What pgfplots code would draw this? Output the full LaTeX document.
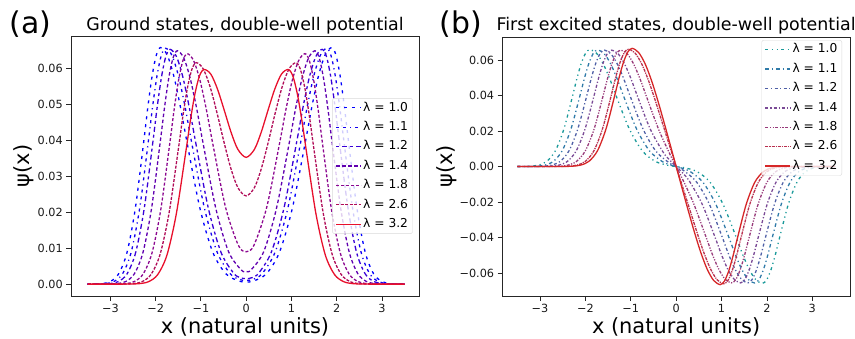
\documentclass[border=0pt]{standalone}
\usepackage{fontspec}
\setmainfont{DejaVu Sans}
\usepackage{pgfplots}
\pgfplotsset{compat=1.18}
\definecolor{gA}{HTML}{0000FF}
\definecolor{gB}{HTML}{1400F0}
\definecolor{gC}{HTML}{3800D8}
\definecolor{gD}{HTML}{6000B0}
\definecolor{gE}{HTML}{8C0890}
\definecolor{gF}{HTML}{B00C58}
\definecolor{gG}{HTML}{E8102C}
\definecolor{eA}{HTML}{1A9A9A}
\definecolor{eB}{HTML}{2F7AA8}
\definecolor{eC}{HTML}{4E5FA6}
\definecolor{eD}{HTML}{7A4A96}
\definecolor{eE}{HTML}{983A7A}
\definecolor{eF}{HTML}{B8304F}
\definecolor{eG}{HTML}{D62728}
\pgfplotsset{
  panel/.style={
    scale only axis,
    scaled ticks=false,
    axis line style={black!85, line width=0.9bp},
    tick pos=left, tick align=outside,
    major tick length=4.7bp,
    every tick/.style={black!85, line width=0.8bp},
    xtick={-3,-2,-1,0,1,2,3},
    xticklabels={−3,−2,−1,0,1,2,3},
    tick label style={font=\fontsize{11.3}{13}\selectfont, text=black!90},
    xlabel={x (natural units)},
    ylabel={ψ(x)},
    every axis x label/.style={at={(axis description cs:0.5,-0.146)}, anchor=base, font=\fontsize{21}{24}\selectfont},
    legend cell align=left,
    legend image code/.code={\draw[#1, line width=1.3bp] (0bp,0bp) -- (25bp,0bp);},
    every axis plot/.append style={line width=1.3bp, smooth},
    legend style={font=\fontsize{12.3}{14}\selectfont, draw=black!15, fill=white, fill opacity=0.8, text opacity=1, draw opacity=1, rounded corners=2bp, inner xsep=3bp, inner ysep=2bp, nodes={inner sep=1.5bp, text height=9.2bp, text depth=2.6bp}, row sep=4.6bp},
  }
}
\begin{document}
\begin{tikzpicture}
\useasboundingbox (0,0) rectangle (855bp,339bp);
\node[anchor=base west, font=\fontsize{30}{34}\selectfont] at (6bp,305bp) {(a)};
\node[anchor=base west, font=\fontsize{30}{34}\selectfont] at (436bp,305bp) {(b)};
\begin{axis}[panel,
  at={(71bp,43bp)}, anchor=south west,
  width=348bp, height=260bp,
  xmin=-3.87, xmax=3.82, ymin=-0.0033, ymax=0.0689,
  ytick={0,0.01,0.02,0.03,0.04,0.05,0.06},
  yticklabels={0.00,0.01,0.02,0.03,0.04,0.05,0.06},
  every axis y label/.style={at={(axis description cs:-0.135,0.5)}, rotate=90, anchor=center, font=\fontsize{21}{24}\selectfont},
  title={Ground states, double-well potential},
  every axis title/.style={at={(axis description cs:0.5,1.0204)}, anchor=base, font=\fontsize{17.5}{20}\selectfont},
  legend style={at={(0.982,0.5)}, anchor=east},
]
\addplot[gA, dash pattern=on 3bp off 5bp] coordinates {(-3.5,0) (-3.37,0.00002) (-3.185,0.00014) (-3.0,0.00073) (-2.815,0.00289) (-2.63,0.00889) (-2.445,0.02133) (-2.26,0.03985) (-2.1675,0.04959) (-2.075,0.05798) (-1.9825,0.06368) (-1.89,0.0657) (-1.746,0.06368) (-1.602,0.05798) (-1.458,0.04959) (-1.314,0.03985) (-1.026,0.02133) (-0.738,0.00889) (-0.45,0.0029) (-0.162,0.00085) (0,0.0006) (0.162,0.00085) (0.45,0.0029) (0.738,0.00889) (1.026,0.02133) (1.314,0.03985) (1.458,0.04959) (1.602,0.05798) (1.746,0.06368) (1.89,0.0657) (1.9825,0.06368) (2.075,0.05798) (2.1675,0.04959) (2.26,0.03985) (2.445,0.02133) (2.63,0.00889) (2.815,0.00289) (3.0,0.00073) (3.185,0.00014) (3.37,0.00002) (3.5,0)};
\addlegendentry{λ = 1.0}
\addplot[gB, dash pattern=on 3bp off 4bp on 3bp off 4bp on 1.2bp off 4bp] coordinates {(-3.5,0) (-3.3,0.00002) (-3.11,0.00014) (-2.92,0.00073) (-2.73,0.00288) (-2.54,0.00886) (-2.35,0.02127) (-2.16,0.03973) (-2.065,0.04944) (-1.97,0.0578) (-1.875,0.06348) (-1.78,0.0655) (-1.6375,0.06348) (-1.495,0.0578) (-1.3525,0.04944) (-1.21,0.03973) (-0.925,0.02127) (-0.64,0.00887) (-0.355,0.00294) (-0.17,0.0014) (0,0.001) (0.17,0.0014) (0.355,0.00294) (0.64,0.00887) (0.925,0.02127) (1.21,0.03973) (1.3525,0.04944) (1.495,0.0578) (1.6375,0.06348) (1.78,0.0655) (1.875,0.06348) (1.97,0.0578) (2.065,0.04944) (2.16,0.03973) (2.35,0.02127) (2.54,0.00886) (2.73,0.00288) (2.92,0.00073) (3.11,0.00014) (3.3,0.00002) (3.5,0)};
\addlegendentry{λ = 1.1}
\addplot[gC, dash pattern=on 3bp off 3bp on 5bp off 3bp] coordinates {(-3.5,0) (-3.2,0.00002) (-3.01,0.00014) (-2.82,0.00072) (-2.63,0.00286) (-2.44,0.00882) (-2.25,0.02117) (-2.06,0.03954) (-1.965,0.04921) (-1.87,0.05754) (-1.775,0.06319) (-1.68,0.0652) (-1.5395,0.06319) (-1.399,0.05754) (-1.2585,0.04921) (-1.118,0.03954) (-0.837,0.02117) (-0.556,0.00885) (-0.275,0.00302) (-0.13,0.0018) (0,0.0015) (0.13,0.0018) (0.275,0.00302) (0.556,0.00885) (0.837,0.02117) (1.118,0.03954) (1.2585,0.04921) (1.399,0.05754) (1.5395,0.06319) (1.68,0.0652) (1.775,0.06319) (1.87,0.05754) (1.965,0.04921) (2.06,0.03954) (2.25,0.02117) (2.44,0.00882) (2.63,0.00286) (2.82,0.00072) (3.01,0.00014) (3.2,0.00002) (3.5,0)};
\addlegendentry{λ = 1.2}
\addplot[gD, dash pattern=on 3.5bp off 2.5bp] coordinates {(-3.5,0) (-3.25,0) (-3.04,0.00002) (-2.85,0.00014) (-2.66,0.00072) (-2.47,0.00285) (-2.28,0.00877) (-2.09,0.02104) (-1.9,0.0393) (-1.805,0.04891) (-1.71,0.05719) (-1.615,0.0628) (-1.52,0.0648) (-1.3785,0.0628) (-1.237,0.05719) (-1.0955,0.04891) (-0.954,0.0393) (-0.671,0.02108) (-0.388,0.00899) (-0.105,0.0039) (0,0.00352) (0.105,0.0039) (0.388,0.00899) (0.671,0.02108) (0.954,0.0393) (1.0955,0.04891) (1.237,0.05719) (1.3785,0.0628) (1.52,0.0648) (1.615,0.0628) (1.71,0.05719) (1.805,0.04891) (1.9,0.0393) (2.09,0.02104) (2.28,0.00877) (2.47,0.00285) (2.66,0.00072) (2.85,0.00014) (3.04,0.00002) (3.25,0) (3.5,0)};
\addlegendentry{λ = 1.4}
\addplot[gE, dash pattern=on 3bp off 2bp] coordinates {(-3.5,0) (-3.1,0) (-2.86,0.00002) (-2.665,0.00014) (-2.47,0.00071) (-2.275,0.00281) (-2.08,0.00866) (-1.885,0.02078) (-1.69,0.03882) (-1.5925,0.04831) (-1.495,0.05648) (-1.3975,0.06203) (-1.3,0.064) (-1.159,0.06203) (-1.018,0.05649) (-0.877,0.04835) (-0.736,0.03891) (-0.454,0.02129) (-0.172,0.01078) (0,0.00899) (0.172,0.01078) (0.454,0.02129) (0.736,0.03891) (0.877,0.04835) (1.018,0.05649) (1.159,0.06203) (1.3,0.064) (1.3975,0.06203) (1.495,0.05648) (1.5925,0.04831) (1.69,0.03882) (1.885,0.02078) (2.08,0.00866) (2.275,0.00281) (2.47,0.00071) (2.665,0.00014) (2.86,0.00002) (3.1,0) (3.5,0)};
\addlegendentry{λ = 1.8}
\addplot[gF, dash pattern=on 3bp off 1.5bp] coordinates {(-3.5,0) (-3.0,0) (-2.7,0.00002) (-2.5,0.000135) (-2.3,0.00068) (-2.1,0.0027) (-1.9,0.00832) (-1.7,0.01997) (-1.5,0.0373) (-1.4,0.04642) (-1.3,0.05427) (-1.2,0.0596) (-1.1,0.0615) (-0.947,0.05974) (-0.794,0.0547) (-0.641,0.04742) (-0.488,0.03936) (-0.335,0.03204) (-0.182,0.02678) (0,0.0245) (0.182,0.02678) (0.335,0.03204) (0.488,0.03936) (0.641,0.04742) (0.794,0.0547) (0.947,0.05974) (1.1,0.0615) (1.2,0.0596) (1.3,0.05427) (1.4,0.04642) (1.5,0.0373) (1.7,0.01997) (1.9,0.00832) (2.1,0.0027) (2.3,0.00068) (2.5,0.000135) (2.7,0.00002) (3.0,0) (3.5,0)};
\addlegendentry{λ = 2.6}
\addplot[gG, solid] coordinates {(-3.5,0) (-2.9,0) (-2.57,0.00002) (-2.365,0.00013) (-2.16,0.00066) (-1.955,0.00262) (-1.75,0.00806) (-1.545,0.01935) (-1.34,0.03615) (-1.2375,0.04499) (-1.135,0.0526) (-1.0325,0.05777) (-0.93,0.0596) (-0.78,0.0583) (-0.6315,0.0541) (-0.48225,0.04823) (-0.333,0.04217) (-0.184,0.03744) (0,0.0352) (0.184,0.03744) (0.333,0.04217) (0.48225,0.04823) (0.6315,0.0541) (0.78,0.0583) (0.93,0.0596) (1.0325,0.05777) (1.135,0.0526) (1.2375,0.04499) (1.34,0.03615) (1.545,0.01935) (1.75,0.00806) (1.955,0.00262) (2.16,0.00066) (2.365,0.00013) (2.57,0.00002) (2.9,0) (3.5,0)};
\addlegendentry{λ = 3.2}
\end{axis}
\begin{axis}[panel,
  at={(502.3bp,43bp)}, anchor=south west,
  width=347.7bp, height=259bp,
  xmin=-3.83, xmax=3.83, ymin=-0.0729, ymax=0.0729,
  ytick={-0.06,-0.04,-0.02,0,0.02,0.04,0.06},
  yticklabels={−0.06,−0.04,−0.02,0.00,0.02,0.04,0.06},
  every axis y label/.style={at={(axis description cs:-0.16,0.5)}, rotate=90, anchor=center, font=\fontsize{21}{24}\selectfont},
  title={First excited states, double-well potential},
  every axis title/.style={at={(axis description cs:0.5,1.0243)}, anchor=base, font=\fontsize{17.5}{20}\selectfont},
  legend style={at={(0.977,0.988)}, anchor=north east},
]
\addplot[eA, dash pattern=on 3bp off 3.5bp on 1.2bp off 3.5bp on 1.2bp off 3.5bp] coordinates {(-3.5,0) (-3.42,0.00002) (-3.23,0.00014) (-3.04,0.00073) (-2.85,0.00289) (-2.66,0.0089) (-2.47,0.02137) (-2.28,0.03991) (-2.185,0.04967) (-2.09,0.05807) (-1.995,0.06377) (-1.9,0.0658) (-1.756,0.06377) (-1.612,0.05807) (-1.468,0.04967) (-1.324,0.03991) (-1.036,0.02137) (-0.748,0.0089) (-0.46,0.00288) (-0.172,0.00063) (0,0) (0.172,-0.00063) (0.46,-0.00288) (0.748,-0.0089) (1.036,-0.02137) (1.324,-0.03991) (1.468,-0.04967) (1.612,-0.05807) (1.756,-0.06377) (1.9,-0.0658) (1.995,-0.06377) (2.09,-0.05807) (2.185,-0.04967) (2.28,-0.03991) (2.47,-0.02137) (2.66,-0.0089) (2.85,-0.00289) (3.04,-0.00073) (3.23,-0.00014) (3.42,-0.00002) (3.5,0)};
\addlegendentry{λ = 1.0}
\addplot[eB, dash pattern=on 3.5bp off 3bp on 1.2bp off 3bp] coordinates {(-3.5,0) (-3.29,0.00002) (-3.095,0.00014) (-2.9,0.00073) (-2.705,0.00288) (-2.51,0.00888) (-2.315,0.0213) (-2.12,0.03979) (-2.0225,0.04951) (-1.925,0.05789) (-1.8275,0.06358) (-1.73,0.0656) (-1.5875,0.06358) (-1.445,0.05789) (-1.3025,0.04951) (-1.16,0.03979) (-0.875,0.0213) (-0.59,0.00886) (-0.305,0.00277) (-0.15,0.00112) (0,0) (0.15,-0.00112) (0.305,-0.00277) (0.59,-0.00886) (0.875,-0.0213) (1.16,-0.03979) (1.3025,-0.04951) (1.445,-0.05789) (1.5875,-0.06358) (1.73,-0.0656) (1.8275,-0.06358) (1.925,-0.05789) (2.0225,-0.04951) (2.12,-0.03979) (2.315,-0.0213) (2.51,-0.00888) (2.705,-0.00288) (2.9,-0.00073) (3.095,-0.00014) (3.29,-0.00002) (3.5,0)};
\addlegendentry{λ = 1.1}
\addplot[eC, dash pattern=on 3bp off 2.5bp on 1.2bp off 2.5bp] coordinates {(-3.5,0) (-3.14,0.00002) (-2.945,0.00014) (-2.75,0.00073) (-2.555,0.00288) (-2.36,0.00886) (-2.165,0.02127) (-1.97,0.03973) (-1.8725,0.04944) (-1.775,0.0578) (-1.6775,0.06348) (-1.58,0.0655) (-1.439,0.06348) (-1.2975,0.0578) (-1.156,0.04944) (-1.015,0.03973) (-0.7325,0.02125) (-0.45,0.00876) (-0.1675,0.00233) (0,0) (0.1675,-0.00233) (0.45,-0.00876) (0.7325,-0.02125) (1.015,-0.03973) (1.156,-0.04944) (1.2975,-0.0578) (1.439,-0.06348) (1.58,-0.0655) (1.6775,-0.06348) (1.775,-0.0578) (1.8725,-0.04944) (1.97,-0.03973) (2.165,-0.02127) (2.36,-0.00886) (2.555,-0.00288) (2.75,-0.00073) (2.945,-0.00014) (3.14,-0.00002) (3.5,0)};
\addlegendentry{λ = 1.2}
\addplot[eD, dash pattern=on 3bp off 2bp on 1.2bp off 2bp] coordinates {(-3.5,0) (-3.2,0) (-2.98,0.00002) (-2.785,0.00014) (-2.59,0.00073) (-2.395,0.00288) (-2.2,0.00886) (-2.005,0.02127) (-1.81,0.03973) (-1.7125,0.04944) (-1.615,0.0578) (-1.5175,0.06348) (-1.42,0.0655) (-1.279,0.06348) (-1.1375,0.0578) (-0.996,0.04944) (-0.855,0.03971) (-0.5725,0.02114) (-0.29,0.00819) (-0.15,0.00385) (0,0) (0.15,-0.00385) (0.29,-0.00819) (0.5725,-0.02114) (0.855,-0.03971) (0.996,-0.04944) (1.1375,-0.0578) (1.279,-0.06348) (1.42,-0.0655) (1.5175,-0.06348) (1.615,-0.0578) (1.7125,-0.04944) (1.81,-0.03973) (2.005,-0.02127) (2.2,-0.00886) (2.395,-0.00288) (2.59,-0.00073) (2.785,-0.00014) (2.98,-0.00002) (3.2,0) (3.5,0)};
\addlegendentry{λ = 1.4}
\addplot[eE, dash pattern=on 3bp off 1.5bp on 1.2bp off 1.5bp on 1.2bp off 1.5bp] coordinates {(-3.5,0) (-3.1,0) (-2.78,0.00002) (-2.585,0.00014) (-2.39,0.00073) (-2.195,0.00288) (-2.0,0.00886) (-1.805,0.02127) (-1.61,0.03973) (-1.5125,0.04944) (-1.415,0.0578) (-1.3175,0.06348) (-1.22,0.0655) (-1.079,0.06347) (-0.9375,0.05776) (-0.796,0.04933) (-0.655,0.03946) (-0.3725,0.02003) (-0.09,0.00441) (0,0) (0.09,-0.00441) (0.3725,-0.02003) (0.655,-0.03946) (0.796,-0.04933) (0.9375,-0.05776) (1.079,-0.06347) (1.22,-0.0655) (1.3175,-0.06348) (1.415,-0.0578) (1.5125,-0.04944) (1.61,-0.03973) (1.805,-0.02127) (2.0,-0.00886) (2.195,-0.00288) (2.39,-0.00073) (2.585,-0.00014) (2.78,-0.00002) (3.1,0) (3.5,0)};
\addlegendentry{λ = 1.8}
\addplot[eF, dash pattern=on 3bp off 1bp on 1.2bp off 1bp] coordinates {(-3.5,0) (-2.9,0) (-2.57,0.00002) (-2.38,0.00014) (-2.19,0.00073) (-2.0,0.0029) (-1.81,0.00893) (-1.62,0.02143) (-1.43,0.04003) (-1.335,0.04982) (-1.24,0.05825) (-1.145,0.06397) (-1.05,0.066) (-0.905,0.06383) (-0.76,0.05782) (-0.615,0.04881) (-0.47,0.03795) (-0.325,0.02628) (-0.18,0.01449) (0,0) (0.18,-0.01449) (0.325,-0.02628) (0.47,-0.03795) (0.615,-0.04881) (0.76,-0.05782) (0.905,-0.06383) (1.05,-0.066) (1.145,-0.06397) (1.24,-0.05825) (1.335,-0.04982) (1.43,-0.04003) (1.62,-0.02143) (1.81,-0.00893) (2.0,-0.0029) (2.19,-0.00073) (2.38,-0.00014) (2.57,-0.00002) (2.9,0) (3.5,0)};
\addlegendentry{λ = 2.6}
\addplot[eG, solid] coordinates {(-3.5,0) (-2.8,0) (-2.49,0.00002) (-2.3,0.00015) (-2.11,0.00074) (-1.92,0.00292) (-1.73,0.009) (-1.54,0.02159) (-1.35,0.04033) (-1.255,0.05019) (-1.16,0.05869) (-1.065,0.06445) (-0.97,0.0665) (-0.8275,0.06419) (-0.685,0.05788) (-0.5425,0.04837) (-0.4,0.03674) (-0.2575,0.02397) (-0.115,0.01076) (0,0) (0.115,-0.01076) (0.2575,-0.02397) (0.4,-0.03674) (0.5425,-0.04837) (0.685,-0.05788) (0.8275,-0.06419) (0.97,-0.0665) (1.065,-0.06445) (1.16,-0.05869) (1.255,-0.05019) (1.35,-0.04033) (1.54,-0.02159) (1.73,-0.009) (1.92,-0.00292) (2.11,-0.00074) (2.3,-0.00015) (2.49,-0.00002) (2.8,0) (3.5,0)};
\addlegendentry{λ = 3.2}
\end{axis}
\end{tikzpicture}
\end{document}
